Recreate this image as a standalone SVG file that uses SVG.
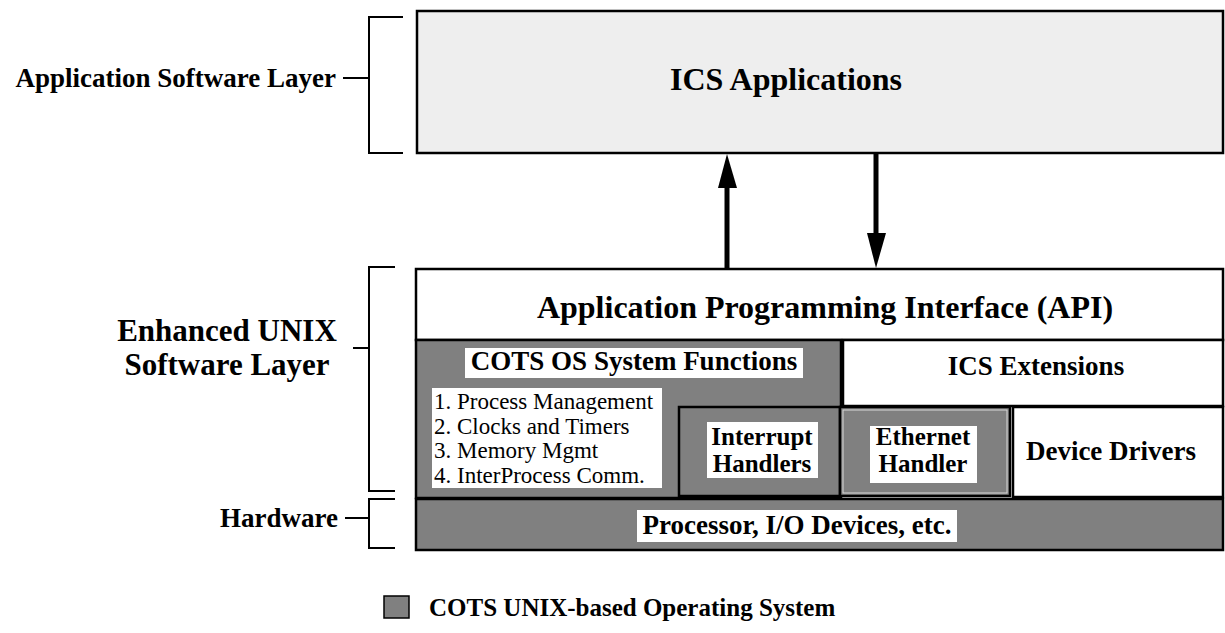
<svg xmlns="http://www.w3.org/2000/svg" width="1225" height="633" viewBox="0 0 1225 633">
<style>
.b{font-family:"Liberation Serif","Times New Roman",serif;font-weight:bold;fill:#000}
.r{font-family:"Liberation Serif","Times New Roman",serif;fill:#000}
.br{fill:none;stroke:#000;stroke-width:2}
.g{fill:#808080}
.k{stroke:#000;stroke-width:2.5}
.wb{fill:#fff}
</style>
<rect width="1225" height="633" fill="#fff"/>
<g id="brackets">
<path class="br" d="M403,17 H369 V153 H403 M343,78 H369"/>
<path class="br" d="M395,267 H369 V491 H395 M353,348 H369"/>
<path class="br" d="M395,499 H369 V548 H395 M345,518 H369"/>
</g>
<g id="label-app-layer"><text class="b" x="336" y="87" font-size="27" text-anchor="end">Application Software Layer</text></g>
<g id="label-unix-layer">
<text class="b" x="227" y="341" font-size="31" text-anchor="middle">Enhanced UNIX</text>
<text class="b" x="227" y="375" font-size="31" text-anchor="middle">Software Layer</text>
</g>
<g id="label-hardware"><text class="b" x="338" y="527" font-size="27" text-anchor="end">Hardware</text></g>

<g id="ics-applications">
<rect x="417" y="11" width="806" height="142" fill="#eeeeee" class="k"/>
<text class="b" x="786" y="90" font-size="32" text-anchor="middle">ICS Applications</text>
</g>

<g id="connectors">
<line x1="727" y1="269" x2="727" y2="186" stroke="#000" stroke-width="5"/>
<polygon points="718,188 737,188 727,154" fill="#000"/>
<line x1="876" y1="154" x2="876" y2="236" stroke="#000" stroke-width="5"/>
<polygon points="867,233 886,233 876,268" fill="#000"/>
</g>

<g id="api">
<rect x="416" y="269" width="807" height="71" fill="#fff" class="k"/>
<text class="b" x="825" y="318" font-size="32" text-anchor="middle">Application Programming Interface (API)</text>
</g>

<g id="cots-os">
<rect x="416" y="340" width="425" height="158" class="g k"/>
<rect x="465" y="348" width="338" height="30" class="wb"/>
<text class="b" x="634" y="370" font-size="27" text-anchor="middle">COTS OS System Functions</text>
<rect x="432" y="388" width="230" height="100" class="wb"/>
<text class="r" font-size="23" x="434">
<tspan x="434" y="409">1. Process Management</tspan>
<tspan x="434" y="434">2. Clocks and Timers</tspan>
<tspan x="434" y="458">3. Memory Mgmt</tspan>
<tspan x="434" y="483">4. InterProcess Comm.</tspan>
</text>
</g>

<g id="ics-extensions">
<rect x="843" y="340" width="380" height="66" fill="#fff" class="k"/>
<text class="b" x="1036" y="375" font-size="27" text-anchor="middle">ICS  Extensions</text>
</g>

<g id="interrupt-handlers">
<rect x="679" y="407" width="161" height="89" class="g k"/>
<rect x="707" y="422" width="111" height="56" class="wb"/>
<text class="b" x="762" y="445" font-size="25" text-anchor="middle">Interrupt</text>
<text class="b" x="762" y="472" font-size="25" text-anchor="middle">Handlers</text>
</g>

<g id="ethernet-handler">
<rect x="840" y="407" width="170" height="89" class="g k"/>
<rect x="843" y="410" width="164" height="83" fill="none" stroke="#d8d8d8" stroke-width="1"/>
<rect x="870" y="426" width="107" height="57" class="wb"/>
<text class="b" x="923" y="445" font-size="25" text-anchor="middle">Ethernet</text>
<text class="b" x="923" y="472" font-size="25" text-anchor="middle">Handler</text>
</g>

<g id="device-drivers">
<rect x="1013" y="407" width="210" height="90" fill="#fff" class="k"/>
<text class="b" x="1111" y="460" font-size="27" text-anchor="middle">Device Drivers</text>
</g>

<g id="hardware">
<rect x="416" y="499" width="807" height="51" class="g k"/>
<rect x="637" y="510" width="320" height="32" class="wb"/>
<text class="b" x="797" y="534" font-size="27" text-anchor="middle">Processor, I/O Devices, etc.</text>
</g>

<g id="legend">
<rect x="384" y="596" width="25" height="22" class="g" stroke="#000" stroke-width="1.5"/>
<text class="b" x="429" y="616" font-size="25">COTS UNIX-based Operating System</text>
</g>
</svg>
